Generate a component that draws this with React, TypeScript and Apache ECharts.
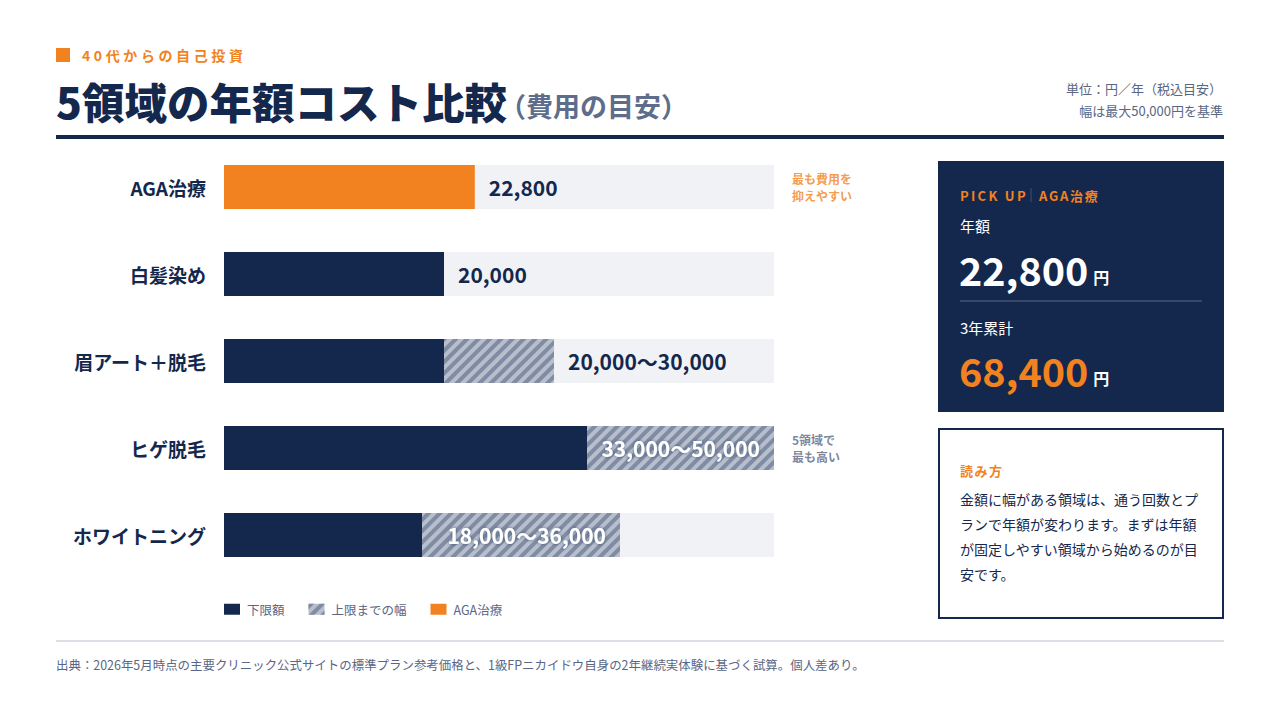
import { useEffect, useRef } from "react";
import * as echarts from "echarts";

// data
const categories = ["AGA治療", "白髪染め", "眉アート＋脱毛", "ヒゲ脱毛", "ホワイトニング"];
const lowerValues = [22800, 20000, 20000, 33000, 18000];
const upperValues = [22800, 20000, 30000, 50000, 36000];
const notes = ["最も費用を\n抑えやすい", "", "", "5領域で\n最も高い", ""];
const legendNames = ["下限額", "上限までの幅", "AGA治療"];
const scaleMax = 50000;
const pickIndex = 0;
const pickYears = 3;

const FONT = '"Noto Sans CJK JP", "Noto Sans", sans-serif';
const NAVY = "#14284D";
const ORANGE = "#F28220";
const GRAY = "#5A6684";
const TRACK = "#F1F2F6";
const HATCH_LIGHT = "#B7BECC";
const HATCH_DARK = "#808BA4";

const GRID_LEFT = 224;
const GRID_WIDTH = 550;

const fmt = (v: number) => v.toLocaleString("en-US");

const measureCtx = document.createElement("canvas").getContext("2d")!;
const measure = (text: string, size: number, weight: string) => {
    measureCtx.font = `${weight} ${size}px ${FONT}`;
    return measureCtx.measureText(text).width;
};

const txt = (text: string, x: number, y: number, size: number, color: string, weight = "normal", align = "left", extra: any = {}) => ({
    type: "text",
    x,
    y,
    style: {
        text,
        fontSize: size,
        fontWeight: weight,
        fontFamily: FONT,
        fill: color,
        textAlign: align,
        textVerticalAlign: "middle",
        ...extra,
    },
});

// letter-spaced text, one element per character
const spaced = (text: string, x: number, y: number, size: number, color: string, gap: number) => {
    let cx = x;
    const children: any[] = [];
    for (const ch of text) {
        children.push(txt(ch, cx, y, size, color, "bold"));
        cx += measure(ch, size, "bold") + gap;
    }
    return children;
};

export default function App() {
    const chartRef = useRef<HTMLDivElement | null>(null);

    useEffect(() => {
        if (!chartRef.current) return;
        const chart = echarts.init(chartRef.current, null, { renderer: "svg" });

        const rangeValues = upperValues.map((u, i) => u - lowerValues[i]);
        const pxPerUnit = GRID_WIDTH / scaleMax;

        const pickYear = lowerValues[pickIndex];
        const pickTotal = pickYear * pickYears;
        const yearText = fmt(pickYear);
        const totalText = fmt(pickTotal);

        const valueLabel = {
            fontSize: 21,
            fontWeight: "bold",
            fontFamily: FONT,
            color: NAVY,
        };

        const option: any = {
            animation: false,
            textStyle: { fontFamily: FONT },
            grid: { left: GRID_LEFT, top: 143.5, width: GRID_WIDTH, height: 435 },
            xAxis: { type: "value", min: 0, max: scaleMax, show: false },
            yAxis: {
                type: "category",
                data: categories,
                inverse: true,
                axisLine: { show: false },
                axisTick: { show: false },
                axisLabel: {
                    fontSize: 19,
                    fontWeight: "bold",
                    color: NAVY,
                    margin: 18,
                    fontFamily: FONT,
                },
            },
            legend: {
                data: legendNames,
                left: GRID_LEFT,
                top: 603,
                padding: 0,
                icon: "rect",
                itemWidth: 16,
                itemHeight: 11,
                itemGap: 24,
                selectedMode: false,
                textStyle: { fontSize: 12.5, color: GRAY, fontFamily: FONT, padding: [0, 0, 0, 2] },
            },
            series: [
                {
                    name: legendNames[0],
                    type: "bar",
                    stack: "cost",
                    barWidth: 44,
                    showBackground: true,
                    backgroundStyle: { color: TRACK },
                    itemStyle: { color: NAVY },
                    data: lowerValues.map((v, i) => ({
                        value: v,
                        itemStyle: { color: i === pickIndex ? ORANGE : NAVY },
                        label: {
                            show: rangeValues[i] === 0,
                            position: "right",
                            distance: 14,
                            formatter: fmt(v),
                            ...valueLabel,
                        },
                    })),
                },
                {
                    name: legendNames[1],
                    type: "bar",
                    stack: "cost",
                    barWidth: 44,
                    itemStyle: {
                        color: HATCH_LIGHT,
                        decal: {
                            symbol: "rect",
                            color: HATCH_DARK,
                            dashArrayX: [1, 0],
                            dashArrayY: [4, 4],
                            rotation: -Math.PI / 4,
                        },
                    },
                    data: rangeValues.map((r, i) => {
                        const text = `${fmt(lowerValues[i])}〜${fmt(upperValues[i])}`;
                        const inside = r * pxPerUnit >= 170;
                        return {
                            value: r,
                            label: {
                                show: r > 0,
                                position: inside ? "insideRight" : "right",
                                distance: 14,
                                formatter: text,
                                ...valueLabel,
                                color: inside ? "#FFFFFF" : NAVY,
                                textShadowColor: inside ? "rgba(20,40,77,0.55)" : "transparent",
                                textShadowBlur: inside ? 3 : 0,
                            },
                        };
                    }),
                },
                {
                    name: legendNames[2],
                    type: "bar",
                    stack: "cost",
                    barWidth: 44,
                    itemStyle: { color: ORANGE },
                    data: [],
                },
                {
                    type: "scatter",
                    symbolSize: 0,
                    silent: true,
                    data: notes.map((n, i) => ({
                        value: [scaleMax, i],
                        label: {
                            show: n !== "",
                            position: "right",
                            distance: 18,
                            formatter: n,
                            fontSize: 12,
                            lineHeight: 17,
                            fontWeight: "bold",
                            fontFamily: FONT,
                            color: i === pickIndex ? ORANGE : GRAY,
                        },
                    })),
                },
            ],
            graphic: [
                // header
                { type: "rect", shape: { x: 56, y: 48, width: 14, height: 14 }, style: { fill: ORANGE } },
                ...spaced("40代からの自己投資", 82, 55, 14, ORANGE, 3.6),
                txt("5領域の年額コスト比較", 56, 100, 42.5, NAVY, "900"),
                txt("（費用の目安）", 499, 105, 27, "#5E6D8C", "bold"),
                txt("単位：円／年（税込目安）", 1222, 88, 13, GRAY, "normal", "right"),
                txt("幅は最大50,000円を基準", 1223, 110, 13, GRAY, "normal", "right"),
                { type: "rect", shape: { x: 56, y: 135, width: 1168, height: 4 }, style: { fill: NAVY } },

                // pick up panel
                { type: "rect", shape: { x: 938, y: 161, width: 286, height: 251 }, style: { fill: NAVY } },
                ...spaced("PICK UP", 960, 195, 13, ORANGE, 2.3),
                { type: "line", shape: { x1: 1031, y1: 188, x2: 1031, y2: 202 }, style: { stroke: "#3E5075", lineWidth: 1 } },
                ...spaced(categories[pickIndex], 1039, 195, 13, ORANGE, 1.7),
                txt("年額", 960, 225, 15, "#FFFFFF"),
                txt(yearText, 959, 268, 39.5, "#FFFFFF", "bold"),
                txt("円", 959 + measure(yearText, 39.5, "bold") + 5, 277, 16, "#FFFFFF", "bold"),
                { type: "line", shape: { x1: 960, y1: 301, x2: 1202, y2: 301 }, style: { stroke: "#56668A", lineWidth: 1 } },
                txt(`${pickYears}年累計`, 960, 327, 15, "#FFFFFF"),
                txt(totalText, 959, 369, 39.5, ORANGE, "bold"),
                txt("円", 959 + measure(totalText, 39.5, "bold") + 5, 378, 16, "#FFFFFF", "bold"),

                // reading guide
                { type: "rect", shape: { x: 939, y: 429, width: 284, height: 189 }, style: { fill: "#FFFFFF", stroke: NAVY, lineWidth: 2 } },
                ...spaced("読み方", 960, 470, 13, ORANGE, 1.5),
                txt(
                    "金額に幅がある領域は、通う回数とプ\nランで年額が変わります。まずは年額\nが固定しやすい領域から始めるのが目\n安です。",
                    960,
                    536.5,
                    14,
                    NAVY,
                    "normal",
                    "left",
                    { lineHeight: 25 }
                ),

                // footer
                { type: "line", shape: { x1: 56, y1: 641, x2: 1224, y2: 641 }, style: { stroke: "#DDE0E7", lineWidth: 2 } },
                txt(
                    "出典：2026年5月時点の主要クリニック公式サイトの標準プラン参考価格と、1級FPニカイドウ自身の2年継続実体験に基づく試算。個人差あり。",
                    56,
                    665,
                    12.45,
                    GRAY
                ),
            ],
        };

        chart.setOption(option);

        return () => {
            chart.dispose();
        };
    }, []);

    return (
        <div
            ref={chartRef}
            style={{ position: "absolute", left: 0, top: 0, width: "1280px", height: "720px", background: "#FFFFFF" }}
        />
    );
}
